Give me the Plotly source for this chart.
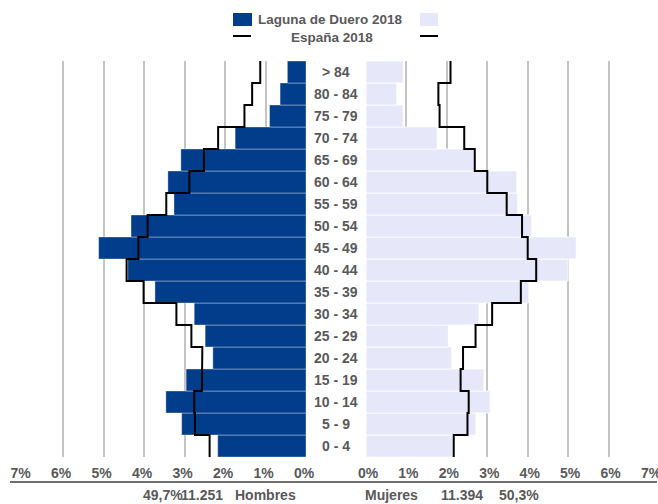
import plotly.graph_objects as go

ages = ["0 - 4", "5 - 9", "10 - 14", "15 - 19", "20 - 24", "25 - 29", "30 - 34", "35 - 39",
        "40 - 44", "45 - 49", "50 - 54", "55 - 59", "60 - 64", "65 - 69", "70 - 74",
        "75 - 79", "80 - 84", "> 84"]
men_laguna = [2.18, 3.07, 3.46, 2.96, 2.30, 2.49, 2.76, 3.73, 4.40, 5.12, 4.32, 3.26, 3.41, 3.09, 1.75, 0.90, 0.64, 0.46]
men_spain = [2.38, 2.74, 2.76, 2.57, 2.56, 2.83, 3.20, 4.01, 4.43, 4.14, 3.91, 3.45, 2.88, 2.52, 2.17, 1.52, 1.33, 1.13]
women_laguna = [2.15, 2.72, 3.07, 2.92, 2.12, 2.01, 2.79, 4.02, 5.00, 5.20, 4.10, 3.75, 3.73, 2.67, 1.76, 0.92, 0.76, 0.92]
women_spain = [2.17, 2.51, 2.54, 2.34, 2.40, 2.71, 3.12, 3.83, 4.21, 4.00, 3.86, 3.48, 3.00, 2.69, 2.43, 1.82, 1.79, 2.09]
tick_vals = [0, 1, 2, 3, 4, 5, 6, 7]
tick_text = ["0%", "1%", "2%", "3%", "4%", "5%", "6%", "7%"]
men_label, men_total, men_pct = "Hombres", "11.251", "49,7%"
women_label, women_total, women_pct = "Mujeres", "11.394", "50,3%"
legend_main, legend_ref = "Laguna de Duero 2018", "España 2018"

MEN_C = "#023d8c"
WOMEN_C = "#e6e8fa"
TXT = "#595959"
FONT = "Liberation Sans, Arial, sans-serif"

ypos = list(range(len(ages)))


def step(vals):
    xs, ys = [], []
    for i in reversed(range(len(vals))):
        xs += [vals[i], vals[i]]
        ys += [i + 0.5, i - 0.5]
    return xs, ys


fig = go.Figure()
fig.add_trace(go.Bar(x=men_laguna, y=ypos, orientation="h", width=1,
                     marker=dict(color=MEN_C, line=dict(color="rgba(255,255,255,0.35)", width=1)),
                     xaxis="x", yaxis="y", showlegend=False))
fig.add_trace(go.Bar(x=women_laguna, y=ypos, orientation="h", width=1,
                     marker=dict(color=WOMEN_C, line=dict(color="rgba(255,255,255,0.8)", width=1)),
                     xaxis="x2", yaxis="y", showlegend=False))
mx, my = step(men_spain)
fig.add_trace(go.Scatter(x=mx, y=my, mode="lines", line=dict(color="black", width=2),
                         xaxis="x", yaxis="y", showlegend=False))
wx, wy = step(women_spain)
fig.add_trace(go.Scatter(x=wx, y=wy, mode="lines", line=dict(color="black", width=2),
                         xaxis="x2", yaxis="y", showlegend=False))

tick_font = dict(family=FONT, size=14, color=TXT, weight="bold")
axis_common = dict(tickvals=tick_vals, ticktext=tick_text, showgrid=True, gridcolor="#c4c4c4",
                   gridwidth=2, zeroline=False, showline=False, ticks="", automargin=False,
                   ticklabeloverflow="allow", ticklabelstandoff=6, ticklabelshift=2,
                   tickfont=tick_font)

# the page body margin is removed by the post_script below, so figure = window
W, H = 658, 504
top, bottom = 61, 457


def pxx(pix):
    return pix / W


def py(pix):
    return (bottom - pix) / (bottom - top)


fig.update_layout(
    width=W, height=H,
    margin=dict(l=0, r=0, t=top, b=H - bottom, autoexpand=False),
    paper_bgcolor="white", plot_bgcolor="white",
    barmode="overlay",
    xaxis=dict(domain=[pxx(22.5), pxx(306)], range=[7, 0], anchor="y", **axis_common),
    xaxis2=dict(domain=[pxx(366), pxx(649)], range=[0, 7], anchor="y", **axis_common),
    yaxis=dict(range=[-0.5, 17.5], showticklabels=False, showgrid=False, zeroline=False,
               domain=[0, 1], anchor="x", automargin=False),
)

ann = []
for i, a in enumerate(ages):
    ann.append(dict(x=pxx(336), xref="paper", y=i, yref="y", text=a, showarrow=False,
                    font=dict(family=FONT, size=14, color=TXT, weight="bold"), xanchor="center"))

bot_font = dict(family=FONT, size=14, color=TXT, weight="bold")
for txt, xc in [(men_pct, 163), (men_total, 202), (men_label, 265),
                (women_label, 391), (women_total, 462), (women_pct, 519)]:
    ann.append(dict(x=pxx(xc), xref="paper", y=py(495), yref="paper", text=txt, showarrow=False,
                    font=bot_font, xanchor="center", yanchor="middle"))

leg_font = dict(family=FONT, size=13.5, color=TXT, weight="bold")
ann.append(dict(x=pxx(330.5), xref="paper", y=py(20), yref="paper", text=legend_main, showarrow=False,
                font=leg_font, xanchor="center", yanchor="middle"))
ann.append(dict(x=pxx(332), xref="paper", y=py(38), yref="paper", text=legend_ref, showarrow=False,
                font=leg_font, xanchor="center", yanchor="middle"))

shapes = [
    dict(type="rect", xref="paper", yref="paper", x0=pxx(233), x1=pxx(252), y0=py(26), y1=py(13),
         fillcolor=MEN_C, line=dict(width=0)),
    dict(type="rect", xref="paper", yref="paper", x0=pxx(420), x1=pxx(438), y0=py(26), y1=py(13),
         fillcolor=WOMEN_C, line=dict(width=0)),
    dict(type="line", xref="paper", yref="paper", x0=pxx(233), x1=pxx(251), y0=py(36), y1=py(36),
         line=dict(color="black", width=2)),
    dict(type="line", xref="paper", yref="paper", x0=pxx(420), x1=pxx(438), y0=py(36), y1=py(36),
         line=dict(color="black", width=2)),
    dict(type="line", xref="paper", yref="paper", x0=pxx(10), x1=pxx(657), y0=py(482), y1=py(482),
         line=dict(color="#707070", width=2)),
]
fig.update_layout(annotations=ann, shapes=shapes)

fig.write_html("out.html", config={"displayModeBar": False},
               post_script="document.body.style.margin='0';document.body.style.overflow='hidden';")
